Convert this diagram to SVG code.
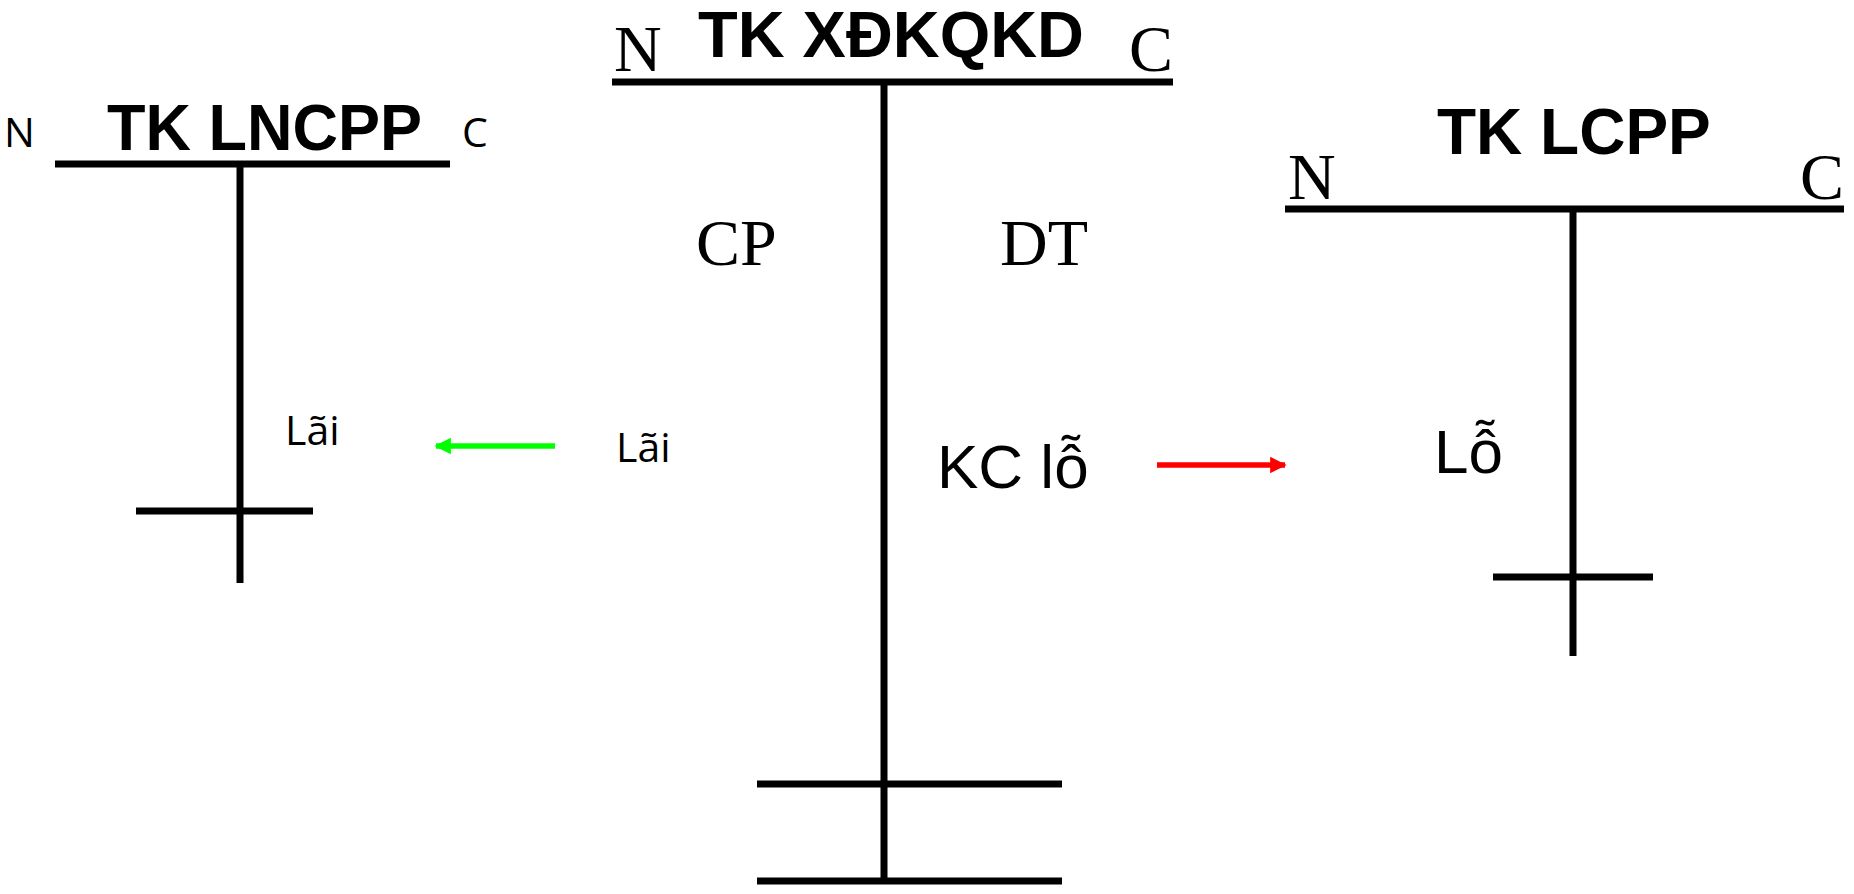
<svg xmlns="http://www.w3.org/2000/svg" width="1854" height="894" viewBox="0 0 1854 894">
<style>
.ln{stroke:#000;stroke-width:7;fill:none}
.title{font-family:"Liberation Sans",Arial,sans-serif;font-weight:bold;font-size:64px;fill:#000}
.serif{font-family:"Liberation Serif","Times New Roman",serif;font-size:66px;fill:#000}
.sans{font-family:"Liberation Sans",Arial,sans-serif;font-size:62px;fill:#000}
.cal{font-family:"Open Sans","Noto Sans",sans-serif;font-size:41px;fill:#000}
</style>
<defs>
<marker id="ag" viewBox="0 0 10 10" refX="9" refY="5" markerWidth="3" markerHeight="3" orient="auto" markerUnits="strokeWidth"><path d="M0,0 L10,5 L0,10 z" fill="#00ff00"/></marker>
<marker id="ar" viewBox="0 0 10 10" refX="9" refY="5" markerWidth="3" markerHeight="3" orient="auto" markerUnits="strokeWidth"><path d="M0,0 L10,5 L0,10 z" fill="#ff0000"/></marker>
</defs>
<rect width="1854" height="894" fill="#fff"/>
<g id="tk-lncpp">
<text class="cal" x="4" y="147">N</text>
<text class="title" x="107" y="150" textLength="315" lengthAdjust="spacingAndGlyphs">TK LNCPP</text>
<text class="cal" x="462" y="147">C</text>
<line class="ln" x1="55" y1="164" x2="450" y2="164"/>
<line class="ln" x1="240" y1="164" x2="240" y2="583"/>
<line class="ln" x1="136" y1="511" x2="313" y2="511"/>
<text class="cal" x="285" y="445">Lãi</text>
</g>
<g id="tk-xdkqkd">
<text class="serif" x="614" y="71">N</text>
<text class="title" x="698" y="57" textLength="386" lengthAdjust="spacingAndGlyphs">TK XĐKQKD</text>
<text class="serif" x="1129" y="71">C</text>
<line class="ln" x1="612" y1="82" x2="1173" y2="82"/>
<line class="ln" x1="884" y1="82" x2="884" y2="881"/>
<line class="ln" x1="757" y1="784" x2="1062" y2="784"/>
<line class="ln" x1="757" y1="881" x2="1062" y2="881"/>
<text class="serif" x="696" y="265" font-size="62">CP</text>
<text class="serif" x="1000" y="265" font-size="62">DT</text>
<text class="cal" x="616" y="462">Lãi</text>
<text class="sans" x="937" y="488">KC lỗ</text>
</g>
<g id="tk-lcpp">
<text class="serif" x="1288" y="199">N</text>
<text class="title" x="1437" y="154">TK LCPP</text>
<text class="serif" x="1800" y="199">C</text>
<line class="ln" x1="1285" y1="209" x2="1844" y2="209"/>
<line class="ln" x1="1573" y1="209" x2="1573" y2="656"/>
<line class="ln" x1="1493" y1="577" x2="1653" y2="577"/>
<text class="sans" x="1434" y="473">Lỗ</text>
</g>
<g id="connectors">
<line x1="555" y1="446" x2="436" y2="446" stroke="#00ff00" stroke-width="5.5" marker-end="url(#ag)"/>
<line x1="1157" y1="465" x2="1285" y2="465" stroke="#ff0000" stroke-width="5.5" marker-end="url(#ar)"/>
</g>
</svg>
